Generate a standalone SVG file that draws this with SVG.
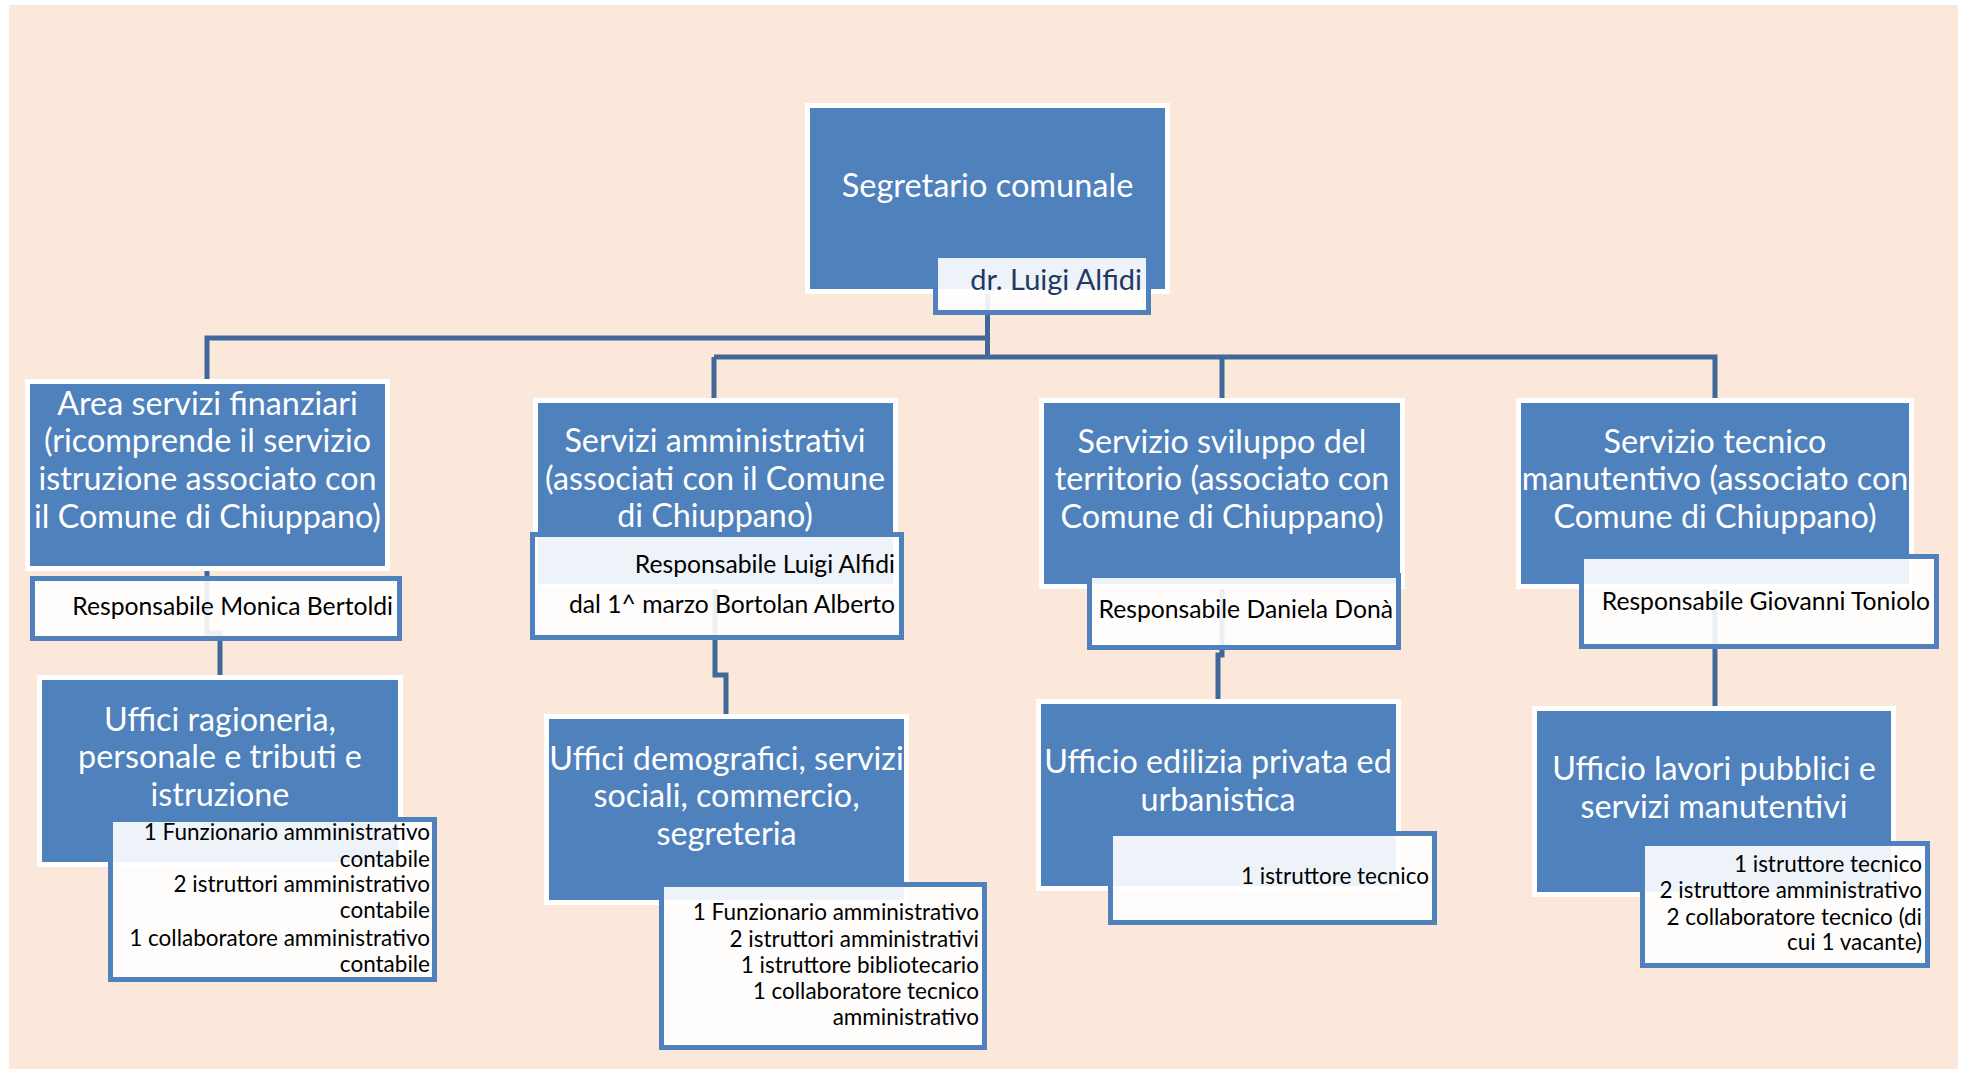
<svg xmlns="http://www.w3.org/2000/svg" width="1967" height="1072" viewBox="0 0 1967 1072">
<style>
.node{fill:#4F81BD;stroke:#FFFFFF;stroke-width:5}
.lbl{fill:#FFFFFF;fill-opacity:0.9;stroke:#4F81BD;stroke-width:5}
.t{font-family:Lato,"Liberation Sans",sans-serif;font-size:32.3px;fill:#FFFFFF;text-anchor:middle}
.s{font-family:Lato,"Liberation Sans",sans-serif;font-size:22.5px;fill:#000000;text-anchor:end}
.r{font-size:24.7px}
.conn{fill:none;stroke:#41689B;stroke-width:5}
</style>
<rect x="0" y="0" width="1967" height="1072" fill="#FFFFFF"/>
<rect x="9" y="5" width="1949" height="1064" fill="#FCE8DA"/>
<g id="connectors">
<path class="conn" d="M987.5 294 V357"/>
<path class="conn" d="M987.5 338 H207 V379"/>
<path class="conn" d="M714 357 H1715 V398"/>
<path class="conn" d="M714 357 V398"/>
<path class="conn" d="M1222 357 V398"/>
<path class="conn" d="M207 571 V633 H220 V675"/>
<path class="conn" d="M715 589 V675 H726 V714"/>
<path class="conn" d="M1222 589 V655 H1218 V699"/>
<path class="conn" d="M1715 589 V706"/>
</g>
<g id="segretario">
<rect class="node" x="807.5" y="105.5" width="360" height="186"/>
<text class="t" x="987.5" y="197" style="font-size:32.5px">Segretario comunale</text>
<rect class="lbl" x="935.5" y="255.5" width="213" height="57"/>
<text class="s" x="1142" y="290" style="font-size:29px;fill:#1F3864">dr. Luigi Alfidi</text>
</g>
<g id="area-finanziari">
<rect class="node" x="27.5" y="381.5" width="360" height="187"/>
<text class="t" x="207.5"><tspan x="207.5" y="415">Area servizi finanziari</tspan><tspan x="207.5" y="452">(ricomprende il servizio</tspan><tspan x="207.5" y="490">istruzione associato con</tspan><tspan x="207.5" y="528">il Comune di Chiuppano)</tspan></text>
<rect class="lbl" x="32.5" y="578.5" width="367" height="60"/>
<text class="s r" x="393" y="615">Responsabile Monica Bertoldi</text>
</g>
<g id="servizi-amministrativi">
<rect class="node" x="535.5" y="400.5" width="360" height="186"/>
<text class="t"><tspan x="715" y="452">Servizi amministrativi</tspan><tspan x="715" y="490">(associati con il Comune</tspan><tspan x="715" y="527">di Chiuppano)</tspan></text>
<rect class="lbl" x="532.5" y="534.5" width="369" height="103"/>
<text class="s r"><tspan x="895" y="573">Responsabile Luigi Alfidi</tspan><tspan x="895" y="613">dal 1^ marzo Bortolan Alberto</tspan></text>
</g>
<g id="sviluppo-territorio">
<rect class="node" x="1041.5" y="400.5" width="361" height="186"/>
<text class="t"><tspan x="1222" y="453">Servizio sviluppo del</tspan><tspan x="1222" y="490">territorio (associato con</tspan><tspan x="1222" y="528">Comune di Chiuppano)</tspan></text>
<rect class="lbl" x="1089.5" y="575.5" width="309" height="72"/>
<text class="s r" x="1393" y="618">Responsabile Daniela Donà</text>
</g>
<g id="tecnico-manutentivo">
<rect class="node" x="1518.5" y="400.5" width="393" height="186"/>
<text class="t"><tspan x="1715" y="453">Servizio tecnico</tspan><tspan x="1715" y="490">manutentivo (associato con</tspan><tspan x="1715" y="528">Comune di Chiuppano)</tspan></text>
<rect class="lbl" x="1581.5" y="556.5" width="355" height="90"/>
<text class="s r" x="1930" y="610">Responsabile Giovanni Toniolo</text>
</g>
<g id="uffici-ragioneria">
<rect class="node" x="39.5" y="677.5" width="361" height="187"/>
<text class="t"><tspan x="220" y="731">Uffici ragioneria,</tspan><tspan x="220" y="768">personale e tributi e</tspan><tspan x="220" y="806">istruzione</tspan></text>
<rect class="lbl" x="110.5" y="819.5" width="324" height="160"/>
<text class="s"><tspan x="430" y="840">1 Funzionario amministrativo</tspan><tspan x="430" y="867">contabile</tspan><tspan x="430" y="892">2 istruttori amministrativo</tspan><tspan x="430" y="918">contabile</tspan><tspan x="430" y="946">1 collaboratore amministrativo</tspan><tspan x="430" y="972">contabile</tspan></text>
</g>
<g id="uffici-demografici">
<rect class="node" x="546.5" y="716.5" width="360" height="186"/>
<text class="t"><tspan x="726.5" y="770">Uffici demografici, servizi</tspan><tspan x="726.5" y="807">sociali, commercio,</tspan><tspan x="726.5" y="845">segreteria</tspan></text>
<rect class="lbl" x="661.5" y="884.5" width="323" height="163"/>
<text class="s"><tspan x="979" y="920">1 Funzionario amministrativo</tspan><tspan x="979" y="947">2 istruttori amministrativi</tspan><tspan x="979" y="973">1 istruttore bibliotecario</tspan><tspan x="979" y="999">1 collaboratore tecnico</tspan><tspan x="979" y="1025">amministrativo</tspan></text>
</g>
<g id="ufficio-edilizia">
<rect class="node" x="1038.5" y="701.5" width="360" height="187"/>
<text class="t"><tspan x="1218" y="773">Ufficio edilizia privata ed</tspan><tspan x="1218" y="811">urbanistica</tspan></text>
<rect class="lbl" x="1110.5" y="833.5" width="324" height="89"/>
<text class="s" x="1429" y="884">1 istruttore tecnico</text>
</g>
<g id="ufficio-lavori">
<rect class="node" x="1534.5" y="708.5" width="359" height="186"/>
<text class="t"><tspan x="1714" y="780">Ufficio lavori pubblici e</tspan><tspan x="1714" y="818">servizi manutentivi</tspan></text>
<rect class="lbl" x="1642.5" y="843.5" width="285" height="122"/>
<text class="s"><tspan x="1922" y="872">1 istruttore tecnico</tspan><tspan x="1922" y="898">2 istruttore amministrativo</tspan><tspan x="1922" y="925">2 collaboratore tecnico (di</tspan><tspan x="1922" y="950">cui 1 vacante)</tspan></text>
</g>
</svg>
